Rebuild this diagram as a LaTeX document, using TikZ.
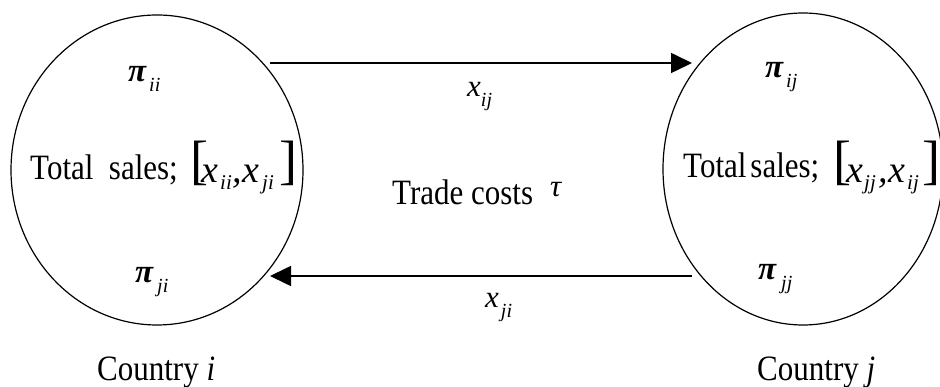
\documentclass[tikz,border=0pt]{standalone}
\usepackage{fontspec}
\setmainfont{Liberation Serif}
\usetikzlibrary{shapes.geometric,arrows.meta}
\newcommand\tall[1]{\scalebox{1}[1.15]{#1}}
\newcommand\sbs[1]{\raisebox{-0.32em}{\fontsize{20}{20}\selectfont\itshape #1}}
\newcommand\pisym{{\fontsize{33}{33}\selectfont\bfseries\itshape π}}
\tikzset{
  country/.style={draw, ellipse, line width=1.2pt, inner sep=0pt, outer sep=0pt},
  lbl/.style={anchor=base west, inner sep=0pt, font=\fontsize{31}{34}\selectfont},
  br/.style={anchor=base west, inner sep=0pt, font=\fontsize{54}{54}\selectfont},
  mx/.style={anchor=base west, inner sep=0pt, font=\fontsize{38}{38}\selectfont\itshape},
  sb/.style={anchor=base west, inner sep=0pt, font=\fontsize{21}{21}\selectfont\itshape},
  flow/.style={line width=1.6pt, -{Triangle[length=21pt,width=20pt]}}
}
\begin{document}
\begin{tikzpicture}[x=1pt,y=-1pt]
\useasboundingbox (0,0) rectangle (940,387);
\fill[white] (0,0) rectangle (940,387);
% countries
\node[country, minimum width=292pt, minimum height=310pt] (ci) at (157,170) {};
\node[country, minimum width=280pt, minimum height=312pt] (cj) at (803,169) {};
% arrows
\coordinate (a1) at (270,63);
\coordinate (b1) at (692,63);
\coordinate (a2) at (692,276);
\coordinate (b2) at (270,276);
\draw[flow] (a1) -- (b1);
\draw[flow] (a2) -- (b2);
% left content
\node[lbl] (piii) at (128,82) {\pisym\sbs{\kern3pt ii}};
\node[lbl] (tsi) at (30,180) {\tall{Total\ \ sales;}};
\node[br] (lb1) at (190,179) {[};
\node[mx] (lx1) at (201,183) {x};
\node[sb] (ls1) at (220,190) {ii};
\node[mx] (lc) at (232,183) {,};
\node[mx] (lx2) at (242,183) {x};
\node[sb] (ls2) at (262,190) {ji};
\node[br] (lb2) at (279,179) {]};
\node[lbl] (piji) at (135,283) {\pisym\sbs{\kern4pt ji}};
% right content
\node[lbl] (piij) at (765,78) {\pisym\sbs{\kern3pt ij}};
\node[lbl] (tsj) at (683,178) {\tall{Total\kern4pt sales;}};
\node[br] (rb1) at (833,179) {[};
\node[mx] (rx1) at (846,183) {x};
\node[sb] (rs1) at (864,190) {jj};
\node[mx] (rc) at (878,183) {,};
\node[mx] (rx2) at (888,183) {x};
\node[sb] (rs2) at (907,190) {ij};
\node[br] (rb2) at (922,179) {]};
\node[lbl] (pijj) at (758,280) {\pisym\sbs{\kern5pt jj}};
% middle labels
\node[lbl] (xij) at (467,97) {\fontsize{31}{31}\selectfont\textit{x}\sbs{ij}};
\node[lbl] (trade) at (392,205) {\tall{Trade costs}};
\node[lbl] (tau) at (550,197) {\textit{τ}};
\node[lbl] (xji) at (485,308) {\fontsize{31}{31}\selectfont\textit{x}\sbs{\kern2pt ji}};
% country names
\node[lbl] (ni) at (97,381) {\tall{Country \textit{i}}};
\node[lbl] (nj) at (757,381) {\tall{Country \textit{j}}};
\end{tikzpicture}
\end{document}
